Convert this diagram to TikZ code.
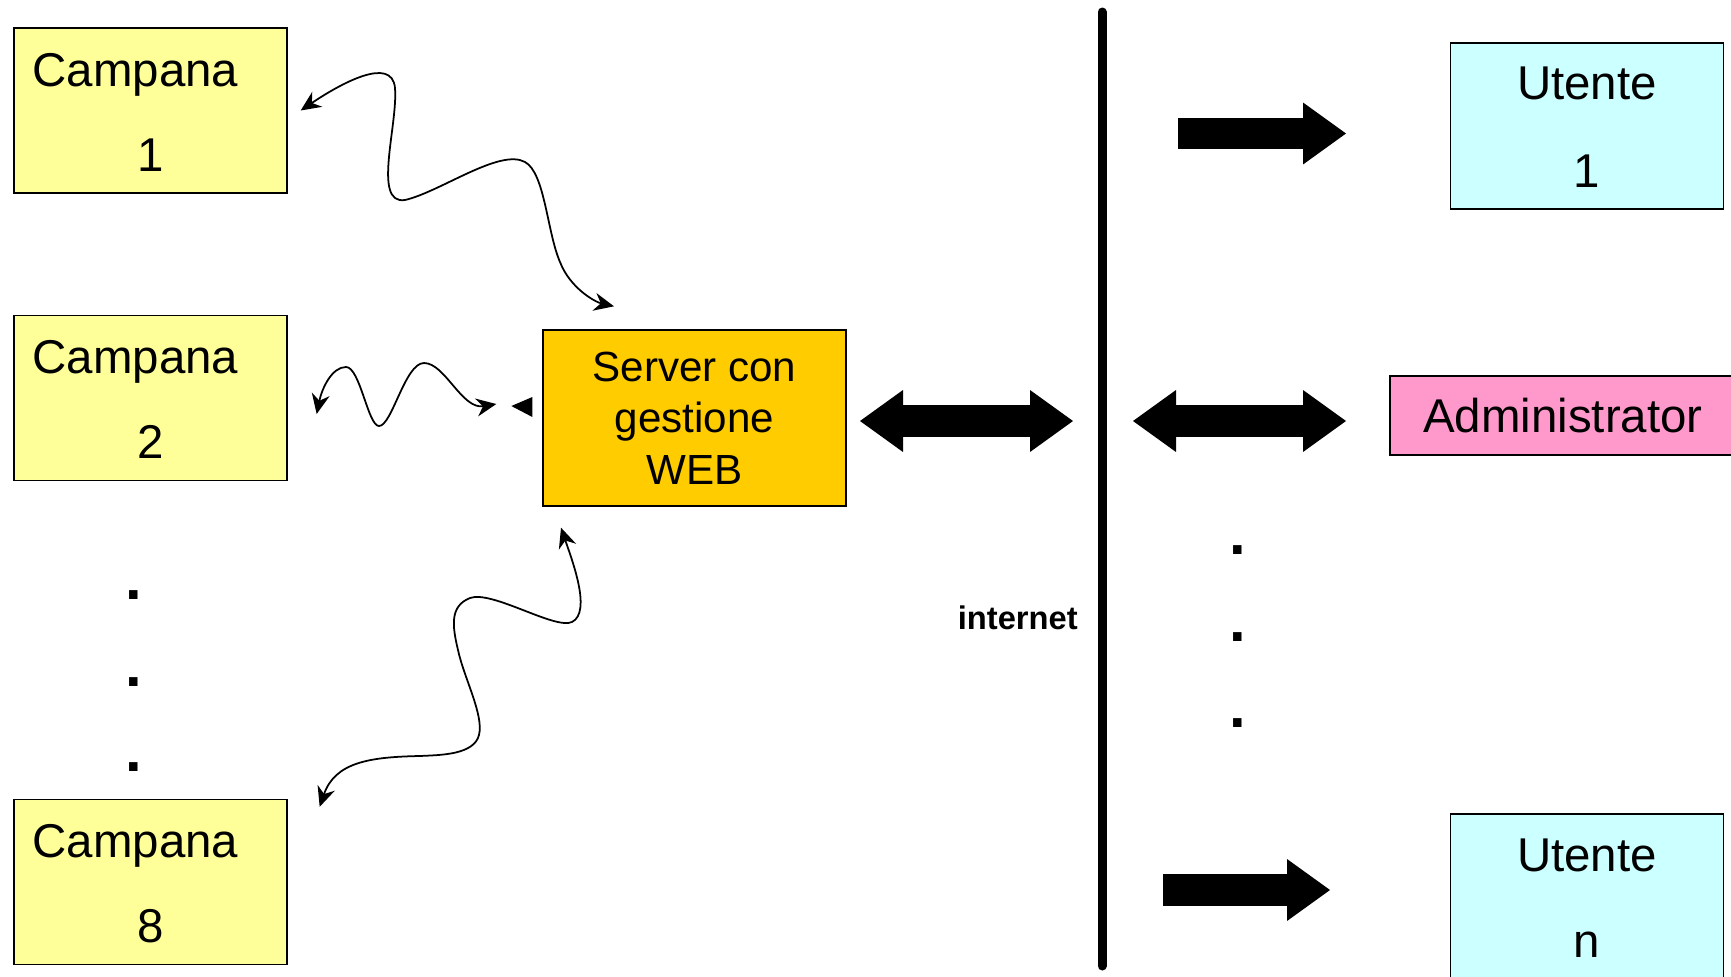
\documentclass[tikz,border=0pt]{standalone}
\usepackage{fontspec}
\setmainfont{Liberation Sans}
\usetikzlibrary{arrows.meta}
\definecolor{campyel}{HTML}{FFFF99}
\definecolor{srvor}{HTML}{FFCC00}
\definecolor{utcyan}{HTML}{CCFFFF}
\definecolor{admpink}{HTML}{FF99CC}
\tikzset{
  box/.style={draw,line width=0.8pt,inner sep=0pt},
  campana/.style={box,fill=campyel,minimum width=5.46cm,minimum height=3.3cm},
  utente/.style={box,fill=utcyan,minimum width=5.45cm,minimum height=3.32cm},
  big/.style={inner sep=0pt,font=\fontsize{27}{32}\selectfont},
  dot/.style={inner sep=0pt,font=\fontsize{34}{40}\selectfont\bfseries},
  wave/.style={line width=1pt,>={Stealth[length=4mm,width=3.6mm,inset=1.3mm]},<->},
  fatto/.style={line width=6.4mm,>={Triangle[length=8.6mm,width=12.4mm,line width=0pt]},->},
  fatboth/.style={fatto,<->}
}
\begin{document}
\begin{tikzpicture}[x=0.02cm,y=-0.02cm]
\useasboundingbox (0,0) rectangle (1731,977);
% campane
\node[campana] (c1) at (150.5,110.5) {};
\node[big,anchor=base west] (c1a) at ([shift={(0.38cm,-1.18cm)}]c1.north west) {Campana};
\node[big,anchor=base] (c1b) at ([yshift=-2.88cm]c1.north) {1};
\node[campana] (c2) at (150.5,398) {};
\node[big,anchor=base west] (c2a) at ([shift={(0.38cm,-1.17cm)}]c2.north west) {Campana};
\node[big,anchor=base] (c2b) at ([yshift=-2.88cm]c2.north) {2};
\node[campana] (c8) at (150.5,882) {};
\node[big,anchor=base west] (c8a) at ([shift={(0.38cm,-1.17cm)}]c8.north west) {Campana};
\node[big,anchor=base] (c8b) at ([yshift=-2.88cm]c8.north) {8};
\node[dot] (d1) at (133.5,595) {.};
\node[dot] (d2) at (133.5,682) {.};
\node[dot] (d3) at (133.5,767) {.};
% server
\node[box,fill=srvor,minimum width=6.06cm,minimum height=3.52cm,align=center,
  font=\fontsize{24}{29.3}\selectfont] (srv) at (694.5,418) {Server con\\gestione\\WEB};
\draw[wave] ([xshift=0.26cm]c1.east) .. controls (340,84) and (392,55) .. (395,88)
  .. controls (398,125) and (372,205) .. (405,200)
  .. controls (440,192) and (500,148) .. (525,162)
  .. controls (545,173) and (547,232) .. (560,262)
  .. controls (570,288) and (595,302) .. ([shift={(-1.61cm,0.46cm)}]srv.north);
\draw[wave] ([shift={(0.58cm,-0.32cm)}]c2.east) .. controls (322,388) and (332,367) .. (346,367)
  .. controls (360,367) and (368,426) .. (379,426)
  .. controls (392,426) and (405,363) .. (424,363)
  .. controls (445,363) and (462,410) .. ([shift={(-0.92cm,0.28cm)}]srv.west);
\fill ([shift={(-0.62cm,0.24cm)}]srv.west) -- ([shift={(-0.2cm,0.42cm)}]srv.west)
  -- ([shift={(-0.2cm,0.02cm)}]srv.west) -- cycle;
\draw[wave] ([shift={(-2.67cm,-0.42cm)}]srv.south) .. controls (572,560) and (592,612) .. (572,622)
  .. controls (555,630) and (492,590) .. (470,598)
  .. controls (450,606) and (452,625) .. (458,650)
  .. controls (464,678) and (484,715) .. (479,735)
  .. controls (474,755) and (440,755) .. (420,756)
  .. controls (370,757) and (335,762) .. ([shift={(0.64cm,-0.16cm)}]c8.north east);
% internet
\draw[line width=1.8mm,line cap=round] (1102,12) coordinate (ntop) -- (1102,966) coordinate (nbot);
\node[inner sep=0pt,anchor=base east,font=\fontsize{18.6}{22}\selectfont\bfseries] (inet) at (1078,629) {internet};
\coordinate (a1) at (860,421);
\coordinate (a2) at (1073,421);
\draw[fatboth] (a1) -- (a2);
\coordinate (b1) at (1133,421);
\coordinate (b2) at (1346,421);
\draw[fatboth] (b1) -- (b2);
% utenti
\node[utente] (u1) at (1587,126) {};
\node[big,anchor=base] (u1a) at ([yshift=-1.14cm]u1.north) {Utente};
\node[big,anchor=base] (u1b) at ([yshift=-2.9cm]u1.north) {1};
\coordinate (f1) at (1178,133.5);
\coordinate (t1) at (1346,133.5);
\draw[fatto] (f1) -- (t1);
\node[box,fill=admpink,minimum width=6.92cm,minimum height=1.58cm,big] (adm) at (1563,415.5) {Administrator};
\node[dot] (e1) at (1238,550) {.};
\node[dot] (e2) at (1238,637) {.};
\node[dot] (e3) at (1238,723) {.};
\node[utente] (un) at (1587,897) {};
\node[big,anchor=base] (una) at ([yshift=-1.16cm]un.north) {Utente};
\node[big,anchor=base] (unb) at ([yshift=-2.88cm]un.north) {n};
\coordinate (fn) at (1163,890);
\coordinate (tn) at (1330,890);
\draw[fatto] (fn) -- (tn);
\end{tikzpicture}
\end{document}
